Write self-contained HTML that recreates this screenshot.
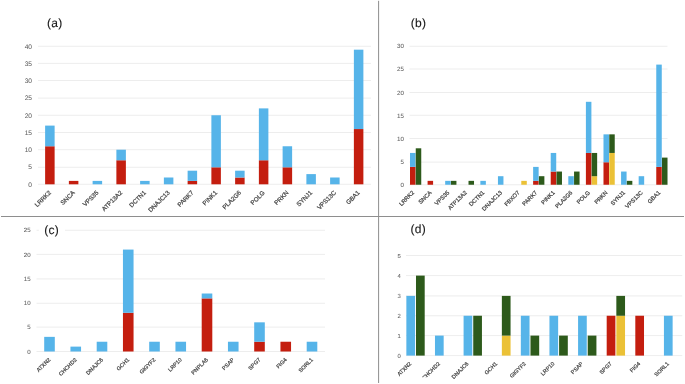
<!DOCTYPE html>
<html><head><meta charset="utf-8"><title>chart</title>
<style>html,body{margin:0;padding:0;background:#fff;}text{stroke:#484848;stroke-width:0.24px;} svg{display:block;font-family:"Liberation Sans",sans-serif;text-rendering:geometricPrecision;will-change:transform;opacity:0.999;}</style>
</head><body>
<svg width="685" height="384" viewBox="0 0 685 384">
<defs><clipPath id="cl"><rect x="400" y="355" width="80" height="22.3"/></clipPath></defs>
<rect width="685" height="384" fill="#fff"/>
<line x1="38.00" y1="184.30" x2="371.00" y2="184.30" stroke="#E9E9E9" stroke-width="0.8"/>
<text x="32.00" y="186.58" font-size="6.6" text-anchor="end" fill="#666" style="stroke-width:0.05px">0</text>
<line x1="38.00" y1="167.30" x2="371.00" y2="167.30" stroke="#E9E9E9" stroke-width="0.8"/>
<text x="32.00" y="169.32" font-size="6.6" text-anchor="end" fill="#666" style="stroke-width:0.05px">5</text>
<line x1="38.00" y1="149.70" x2="371.00" y2="149.70" stroke="#E9E9E9" stroke-width="0.8"/>
<text x="32.00" y="152.06" font-size="6.6" text-anchor="end" fill="#666" style="stroke-width:0.05px">10</text>
<line x1="38.00" y1="132.50" x2="371.00" y2="132.50" stroke="#E9E9E9" stroke-width="0.8"/>
<text x="32.00" y="134.81" font-size="6.6" text-anchor="end" fill="#666" style="stroke-width:0.05px">15</text>
<line x1="38.00" y1="115.25" x2="371.00" y2="115.25" stroke="#E9E9E9" stroke-width="0.8"/>
<text x="32.00" y="117.55" font-size="6.6" text-anchor="end" fill="#666" style="stroke-width:0.05px">20</text>
<line x1="38.00" y1="98.10" x2="371.00" y2="98.10" stroke="#E9E9E9" stroke-width="0.8"/>
<text x="32.00" y="100.29" font-size="6.6" text-anchor="end" fill="#666" style="stroke-width:0.05px">25</text>
<line x1="38.00" y1="80.50" x2="371.00" y2="80.50" stroke="#E9E9E9" stroke-width="0.8"/>
<text x="32.00" y="83.04" font-size="6.6" text-anchor="end" fill="#666" style="stroke-width:0.05px">30</text>
<line x1="38.00" y1="63.40" x2="371.00" y2="63.40" stroke="#E9E9E9" stroke-width="0.8"/>
<text x="32.00" y="65.78" font-size="6.6" text-anchor="end" fill="#666" style="stroke-width:0.05px">35</text>
<line x1="38.00" y1="46.25" x2="371.00" y2="46.25" stroke="#E9E9E9" stroke-width="0.8"/>
<text x="32.00" y="48.53" font-size="6.6" text-anchor="end" fill="#666" style="stroke-width:0.05px">40</text>
<rect x="45.12" y="146.26" width="9.50" height="38.04" fill="#C41E0F"/>
<rect x="45.12" y="125.60" width="9.50" height="20.66" fill="#56B4E9"/>
<text transform="translate(51.48,193.15) rotate(-45)" font-size="6.2" text-anchor="end" fill="#484848" >LRRK2</text>
<rect x="68.88" y="180.90" width="9.50" height="3.40" fill="#C41E0F"/>
<text transform="translate(75.22,193.15) rotate(-45)" font-size="6.2" text-anchor="end" fill="#484848" >SNCA</text>
<rect x="92.62" y="180.90" width="9.50" height="3.40" fill="#56B4E9"/>
<text transform="translate(98.97,193.15) rotate(-45)" font-size="6.2" text-anchor="end" fill="#484848" >VPS35</text>
<rect x="116.38" y="160.26" width="9.50" height="24.04" fill="#C41E0F"/>
<rect x="116.38" y="149.70" width="9.50" height="10.56" fill="#56B4E9"/>
<text transform="translate(122.72,193.15) rotate(-45)" font-size="6.2" text-anchor="end" fill="#484848" >ATP13A2</text>
<rect x="140.12" y="180.90" width="9.50" height="3.40" fill="#56B4E9"/>
<text transform="translate(146.47,193.15) rotate(-45)" font-size="6.2" text-anchor="end" fill="#484848" >DCTN1</text>
<rect x="163.88" y="177.50" width="9.50" height="6.80" fill="#56B4E9"/>
<text transform="translate(170.22,193.15) rotate(-45)" font-size="6.2" text-anchor="end" fill="#484848" >DNAJC13</text>
<rect x="187.62" y="180.90" width="9.50" height="3.40" fill="#C41E0F"/>
<rect x="187.62" y="170.70" width="9.50" height="10.20" fill="#56B4E9"/>
<text transform="translate(193.97,193.15) rotate(-45)" font-size="6.2" text-anchor="end" fill="#484848" >PARK7</text>
<rect x="211.38" y="167.30" width="9.50" height="17.00" fill="#C41E0F"/>
<rect x="211.38" y="115.25" width="9.50" height="52.05" fill="#56B4E9"/>
<text transform="translate(217.72,193.15) rotate(-45)" font-size="6.2" text-anchor="end" fill="#484848" >PINK1</text>
<rect x="235.12" y="177.50" width="9.50" height="6.80" fill="#C41E0F"/>
<rect x="235.12" y="170.70" width="9.50" height="6.80" fill="#56B4E9"/>
<text transform="translate(241.47,193.15) rotate(-45)" font-size="6.2" text-anchor="end" fill="#484848" >PLA2G6</text>
<rect x="258.88" y="160.26" width="9.50" height="24.04" fill="#C41E0F"/>
<rect x="258.88" y="108.39" width="9.50" height="51.87" fill="#56B4E9"/>
<text transform="translate(265.23,193.15) rotate(-45)" font-size="6.2" text-anchor="end" fill="#484848" >POLG</text>
<rect x="282.62" y="167.30" width="9.50" height="17.00" fill="#C41E0F"/>
<rect x="282.62" y="146.26" width="9.50" height="21.04" fill="#56B4E9"/>
<text transform="translate(288.98,193.15) rotate(-45)" font-size="6.2" text-anchor="end" fill="#484848" >PRKN</text>
<rect x="306.38" y="174.10" width="9.50" height="10.20" fill="#56B4E9"/>
<text transform="translate(312.73,193.15) rotate(-45)" font-size="6.2" text-anchor="end" fill="#484848" >SYNJ1</text>
<rect x="330.12" y="177.50" width="9.50" height="6.80" fill="#56B4E9"/>
<text transform="translate(336.48,193.15) rotate(-45)" font-size="6.2" text-anchor="end" fill="#484848" >VPS13C</text>
<rect x="353.88" y="129.05" width="9.50" height="55.25" fill="#C41E0F"/>
<rect x="353.88" y="49.68" width="9.50" height="79.37" fill="#56B4E9"/>
<text transform="translate(360.23,193.15) rotate(-45)" font-size="6.2" text-anchor="end" fill="#484848" >GBA1</text>
<text x="47.00" y="27.20" font-size="12" text-anchor="start" fill="#1a1a1a" letter-spacing="0.3" style="stroke:#1a1a1a;stroke-width:0.12px">(a)</text>
<line x1="409.50" y1="184.75" x2="667.50" y2="184.75" stroke="#E9E9E9" stroke-width="0.8"/>
<text x="404.00" y="186.88" font-size="6.2" text-anchor="end" fill="#666" style="stroke-width:0.05px">0</text>
<line x1="409.50" y1="162.10" x2="667.50" y2="162.10" stroke="#E9E9E9" stroke-width="0.8"/>
<text x="404.00" y="163.80" font-size="6.2" text-anchor="end" fill="#666" style="stroke-width:0.05px">5</text>
<line x1="409.50" y1="138.50" x2="667.50" y2="138.50" stroke="#E9E9E9" stroke-width="0.8"/>
<text x="404.00" y="140.72" font-size="6.2" text-anchor="end" fill="#666" style="stroke-width:0.05px">10</text>
<line x1="409.50" y1="115.25" x2="667.50" y2="115.25" stroke="#E9E9E9" stroke-width="0.8"/>
<text x="404.00" y="117.63" font-size="6.2" text-anchor="end" fill="#666" style="stroke-width:0.05px">15</text>
<line x1="409.50" y1="92.50" x2="667.50" y2="92.50" stroke="#E9E9E9" stroke-width="0.8"/>
<text x="404.00" y="94.55" font-size="6.2" text-anchor="end" fill="#666" style="stroke-width:0.05px">20</text>
<line x1="409.50" y1="69.00" x2="667.50" y2="69.00" stroke="#E9E9E9" stroke-width="0.8"/>
<text x="404.00" y="71.47" font-size="6.2" text-anchor="end" fill="#666" style="stroke-width:0.05px">25</text>
<line x1="409.50" y1="46.25" x2="667.50" y2="46.25" stroke="#E9E9E9" stroke-width="0.8"/>
<text x="404.00" y="48.38" font-size="6.2" text-anchor="end" fill="#666" style="stroke-width:0.05px">30</text>
<rect x="410.00" y="166.90" width="5.50" height="17.85" fill="#C41E0F"/>
<rect x="410.00" y="152.95" width="5.50" height="13.95" fill="#56B4E9"/>
<rect x="415.75" y="148.30" width="5.50" height="36.45" fill="#2D5A1B"/>
<text transform="translate(414.50,193.05) rotate(-45)" font-size="5.75" text-anchor="end" fill="#484848" >LRRK2</text>
<rect x="427.59" y="180.85" width="5.50" height="3.90" fill="#C41E0F"/>
<text transform="translate(432.09,193.05) rotate(-45)" font-size="5.75" text-anchor="end" fill="#484848" >SNCA</text>
<rect x="445.18" y="180.85" width="5.50" height="3.90" fill="#56B4E9"/>
<rect x="450.93" y="180.85" width="5.50" height="3.90" fill="#2D5A1B"/>
<text transform="translate(449.68,193.05) rotate(-45)" font-size="5.75" text-anchor="end" fill="#484848" >VPS35</text>
<rect x="468.52" y="180.85" width="5.50" height="3.90" fill="#2D5A1B"/>
<text transform="translate(467.27,193.05) rotate(-45)" font-size="5.75" text-anchor="end" fill="#484848" >ATP13A2</text>
<rect x="480.36" y="180.85" width="5.50" height="3.90" fill="#56B4E9"/>
<text transform="translate(484.86,193.05) rotate(-45)" font-size="5.75" text-anchor="end" fill="#484848" >DCTN1</text>
<rect x="497.95" y="176.20" width="5.50" height="8.55" fill="#56B4E9"/>
<text transform="translate(502.45,193.05) rotate(-45)" font-size="5.75" text-anchor="end" fill="#484848" >DNAJC13</text>
<rect x="521.29" y="180.85" width="5.50" height="3.90" fill="#EBC136"/>
<text transform="translate(520.04,193.05) rotate(-45)" font-size="5.75" text-anchor="end" fill="#484848" >FBXO7</text>
<rect x="533.13" y="180.85" width="5.50" height="3.90" fill="#C41E0F"/>
<rect x="533.13" y="166.90" width="5.50" height="13.95" fill="#56B4E9"/>
<rect x="538.88" y="176.20" width="5.50" height="8.55" fill="#2D5A1B"/>
<text transform="translate(537.63,193.05) rotate(-45)" font-size="5.75" text-anchor="end" fill="#484848" >PARK7</text>
<rect x="550.72" y="171.55" width="5.50" height="13.20" fill="#C41E0F"/>
<rect x="550.72" y="152.95" width="5.50" height="18.60" fill="#56B4E9"/>
<rect x="556.47" y="171.55" width="5.50" height="13.20" fill="#2D5A1B"/>
<text transform="translate(555.22,193.05) rotate(-45)" font-size="5.75" text-anchor="end" fill="#484848" >PINK1</text>
<rect x="568.31" y="176.20" width="5.50" height="8.55" fill="#56B4E9"/>
<rect x="574.06" y="171.55" width="5.50" height="13.20" fill="#2D5A1B"/>
<text transform="translate(572.81,193.05) rotate(-45)" font-size="5.75" text-anchor="end" fill="#484848" >PLA2G6</text>
<rect x="585.90" y="152.95" width="5.50" height="31.80" fill="#C41E0F"/>
<rect x="585.90" y="101.80" width="5.50" height="51.15" fill="#56B4E9"/>
<rect x="591.65" y="176.20" width="5.50" height="8.55" fill="#EBC136"/>
<rect x="591.65" y="152.95" width="5.50" height="23.25" fill="#2D5A1B"/>
<text transform="translate(590.40,193.05) rotate(-45)" font-size="5.75" text-anchor="end" fill="#484848" >POLG</text>
<rect x="603.49" y="162.25" width="5.50" height="22.50" fill="#C41E0F"/>
<rect x="603.49" y="134.35" width="5.50" height="27.90" fill="#56B4E9"/>
<rect x="609.24" y="152.95" width="5.50" height="31.80" fill="#EBC136"/>
<rect x="609.24" y="134.35" width="5.50" height="18.60" fill="#2D5A1B"/>
<text transform="translate(607.99,193.05) rotate(-45)" font-size="5.75" text-anchor="end" fill="#484848" >PRKN</text>
<rect x="621.08" y="171.55" width="5.50" height="13.20" fill="#56B4E9"/>
<rect x="626.83" y="180.85" width="5.50" height="3.90" fill="#2D5A1B"/>
<text transform="translate(625.58,193.05) rotate(-45)" font-size="5.75" text-anchor="end" fill="#484848" >SYNJ1</text>
<rect x="638.67" y="176.20" width="5.50" height="8.55" fill="#56B4E9"/>
<text transform="translate(643.17,193.05) rotate(-45)" font-size="5.75" text-anchor="end" fill="#484848" >VPS13C</text>
<rect x="656.26" y="166.90" width="5.50" height="17.85" fill="#C41E0F"/>
<rect x="656.26" y="64.60" width="5.50" height="102.30" fill="#56B4E9"/>
<rect x="662.01" y="157.60" width="5.50" height="27.15" fill="#2D5A1B"/>
<text transform="translate(660.76,193.05) rotate(-45)" font-size="5.75" text-anchor="end" fill="#484848" >GBA1</text>
<text x="410.75" y="27.20" font-size="12" text-anchor="start" fill="#1a1a1a" letter-spacing="0.3" style="stroke:#1a1a1a;stroke-width:0.12px">(b)</text>
<line x1="36.50" y1="351.50" x2="325.00" y2="351.50" stroke="#E9E9E9" stroke-width="0.8"/>
<text x="30.60" y="353.60" font-size="6.1" text-anchor="end" fill="#666" style="stroke-width:0.05px">0</text>
<line x1="36.50" y1="327.10" x2="325.00" y2="327.10" stroke="#E9E9E9" stroke-width="0.8"/>
<text x="30.60" y="329.35" font-size="6.1" text-anchor="end" fill="#666" style="stroke-width:0.05px">5</text>
<line x1="36.50" y1="303.25" x2="325.00" y2="303.25" stroke="#E9E9E9" stroke-width="0.8"/>
<text x="30.60" y="305.10" font-size="6.1" text-anchor="end" fill="#666" style="stroke-width:0.05px">10</text>
<line x1="36.50" y1="278.90" x2="325.00" y2="278.90" stroke="#E9E9E9" stroke-width="0.8"/>
<text x="30.60" y="280.85" font-size="6.1" text-anchor="end" fill="#666" style="stroke-width:0.05px">15</text>
<line x1="36.50" y1="254.40" x2="325.00" y2="254.40" stroke="#E9E9E9" stroke-width="0.8"/>
<text x="30.60" y="256.60" font-size="6.1" text-anchor="end" fill="#666" style="stroke-width:0.05px">20</text>
<line x1="36.50" y1="230.25" x2="325.00" y2="230.25" stroke="#E9E9E9" stroke-width="0.8"/>
<text x="30.60" y="232.35" font-size="6.1" text-anchor="end" fill="#666" style="stroke-width:0.05px">25</text>
<rect x="44.20" y="336.86" width="10.60" height="14.64" fill="#56B4E9"/>
<text transform="translate(50.90,360.10) rotate(-45)" font-size="5.5" text-anchor="end" fill="#484848" >ATXN2</text>
<rect x="70.45" y="346.62" width="10.60" height="4.88" fill="#56B4E9"/>
<text transform="translate(77.15,360.10) rotate(-45)" font-size="5.5" text-anchor="end" fill="#484848" >CHCHD2</text>
<rect x="96.70" y="341.74" width="10.60" height="9.76" fill="#56B4E9"/>
<text transform="translate(103.40,360.10) rotate(-45)" font-size="5.5" text-anchor="end" fill="#484848" >DNAJC6</text>
<rect x="122.95" y="312.79" width="10.60" height="38.71" fill="#C41E0F"/>
<rect x="122.95" y="249.57" width="10.60" height="63.22" fill="#56B4E9"/>
<text transform="translate(129.65,360.10) rotate(-45)" font-size="5.5" text-anchor="end" fill="#484848" >GCH1</text>
<rect x="149.20" y="341.74" width="10.60" height="9.76" fill="#56B4E9"/>
<text transform="translate(155.90,360.10) rotate(-45)" font-size="5.5" text-anchor="end" fill="#484848" >GIGYF2</text>
<rect x="175.45" y="341.74" width="10.60" height="9.76" fill="#56B4E9"/>
<text transform="translate(182.15,360.10) rotate(-45)" font-size="5.5" text-anchor="end" fill="#484848" >LRP10</text>
<rect x="201.70" y="298.38" width="10.60" height="53.12" fill="#C41E0F"/>
<rect x="201.70" y="293.51" width="10.60" height="4.87" fill="#56B4E9"/>
<text transform="translate(208.40,360.10) rotate(-45)" font-size="5.5" text-anchor="end" fill="#484848" >PNPLA6</text>
<rect x="227.95" y="341.74" width="10.60" height="9.76" fill="#56B4E9"/>
<text transform="translate(234.65,360.10) rotate(-45)" font-size="5.5" text-anchor="end" fill="#484848" >PSAP</text>
<rect x="254.20" y="341.74" width="10.60" height="9.76" fill="#C41E0F"/>
<rect x="254.20" y="322.33" width="10.60" height="19.41" fill="#56B4E9"/>
<text transform="translate(260.90,360.10) rotate(-45)" font-size="5.5" text-anchor="end" fill="#484848" >SPG7</text>
<rect x="280.45" y="341.74" width="10.60" height="9.76" fill="#C41E0F"/>
<text transform="translate(287.15,360.10) rotate(-45)" font-size="5.5" text-anchor="end" fill="#484848" >FIG4</text>
<rect x="306.70" y="341.74" width="10.60" height="9.76" fill="#56B4E9"/>
<text transform="translate(313.40,360.10) rotate(-45)" font-size="5.5" text-anchor="end" fill="#484848" >SORL1</text>
<rect x="38.80" y="222.00" width="26.20" height="16.00" fill="#fff"/>
<text x="44.25" y="233.50" font-size="12" text-anchor="start" fill="#1a1a1a" letter-spacing="0.3" style="stroke:#1a1a1a;stroke-width:0.12px">(c)</text>
<line x1="406.00" y1="355.60" x2="682.25" y2="355.60" stroke="#E9E9E9" stroke-width="0.8"/>
<text x="400.80" y="357.62" font-size="5.9" text-anchor="end" fill="#666" style="stroke-width:0.05px">0</text>
<line x1="406.00" y1="335.60" x2="682.25" y2="335.60" stroke="#E9E9E9" stroke-width="0.8"/>
<text x="400.80" y="337.60" font-size="5.9" text-anchor="end" fill="#666" style="stroke-width:0.05px">1</text>
<line x1="406.00" y1="315.75" x2="682.25" y2="315.75" stroke="#E9E9E9" stroke-width="0.8"/>
<text x="400.80" y="317.58" font-size="5.9" text-anchor="end" fill="#666" style="stroke-width:0.05px">2</text>
<line x1="406.00" y1="295.90" x2="682.25" y2="295.90" stroke="#E9E9E9" stroke-width="0.8"/>
<text x="400.80" y="297.56" font-size="5.9" text-anchor="end" fill="#666" style="stroke-width:0.05px">3</text>
<line x1="406.00" y1="275.60" x2="682.25" y2="275.60" stroke="#E9E9E9" stroke-width="0.8"/>
<text x="400.80" y="277.54" font-size="5.9" text-anchor="end" fill="#666" style="stroke-width:0.05px">4</text>
<line x1="406.00" y1="255.50" x2="682.25" y2="255.50" stroke="#E9E9E9" stroke-width="0.8"/>
<text x="400.80" y="257.52" font-size="5.9" text-anchor="end" fill="#666" style="stroke-width:0.05px">5</text>
<rect x="406.35" y="295.90" width="8.70" height="59.70" fill="#56B4E9"/>
<rect x="416.00" y="275.60" width="8.70" height="80.00" fill="#2D5A1B"/>
<text transform="translate(411.75,364.10) rotate(-45)" font-size="5.5" text-anchor="end" fill="#484848" >ATXN2</text>
<rect x="434.97" y="335.60" width="8.70" height="20.00" fill="#56B4E9"/>
<g clip-path="url(#cl)">
<text transform="translate(440.37,364.10) rotate(-45)" font-size="5.5" text-anchor="end" fill="#484848" >CHCHD2</text>
</g>
<rect x="463.59" y="315.75" width="8.70" height="39.85" fill="#56B4E9"/>
<rect x="473.24" y="315.75" width="8.70" height="39.85" fill="#2D5A1B"/>
<text transform="translate(468.99,364.10) rotate(-45)" font-size="5.5" text-anchor="end" fill="#484848" >DNAJC6</text>
<rect x="501.86" y="335.60" width="8.70" height="20.00" fill="#EBC136"/>
<rect x="501.86" y="295.90" width="8.70" height="39.70" fill="#2D5A1B"/>
<text transform="translate(497.61,364.10) rotate(-45)" font-size="5.5" text-anchor="end" fill="#484848" >GCH1</text>
<rect x="520.83" y="315.75" width="8.70" height="39.85" fill="#56B4E9"/>
<rect x="530.48" y="335.60" width="8.70" height="20.00" fill="#2D5A1B"/>
<text transform="translate(526.23,364.10) rotate(-45)" font-size="5.5" text-anchor="end" fill="#484848" >GIGYF2</text>
<rect x="549.45" y="315.75" width="8.70" height="39.85" fill="#56B4E9"/>
<rect x="559.10" y="335.60" width="8.70" height="20.00" fill="#2D5A1B"/>
<text transform="translate(554.85,364.10) rotate(-45)" font-size="5.5" text-anchor="end" fill="#484848" >LRP10</text>
<rect x="578.07" y="315.75" width="8.70" height="39.85" fill="#56B4E9"/>
<rect x="587.72" y="335.60" width="8.70" height="20.00" fill="#2D5A1B"/>
<text transform="translate(583.47,364.10) rotate(-45)" font-size="5.5" text-anchor="end" fill="#484848" >PSAP</text>
<rect x="606.69" y="315.75" width="8.70" height="39.85" fill="#C41E0F"/>
<rect x="616.34" y="315.75" width="8.70" height="39.85" fill="#EBC136"/>
<rect x="616.34" y="295.90" width="8.70" height="19.85" fill="#2D5A1B"/>
<text transform="translate(612.09,364.10) rotate(-45)" font-size="5.5" text-anchor="end" fill="#484848" >SPG7</text>
<rect x="635.31" y="315.75" width="8.70" height="39.85" fill="#C41E0F"/>
<text transform="translate(640.71,364.10) rotate(-45)" font-size="5.5" text-anchor="end" fill="#484848" >FIG4</text>
<rect x="663.93" y="315.75" width="8.70" height="39.85" fill="#56B4E9"/>
<text transform="translate(669.33,364.10) rotate(-45)" font-size="5.5" text-anchor="end" fill="#484848" >SORL1</text>
<text x="410.50" y="232.70" font-size="12" text-anchor="start" fill="#1a1a1a" letter-spacing="0.3" style="stroke:#1a1a1a;stroke-width:0.12px">(d)</text>
<line x1="1.00" y1="216.50" x2="684.00" y2="216.50" stroke="#8e8e8e" stroke-width="1"/>
<line x1="378.60" y1="0.80" x2="378.60" y2="383.00" stroke="#8e8e8e" stroke-width="1"/>
</svg>
</body></html>
